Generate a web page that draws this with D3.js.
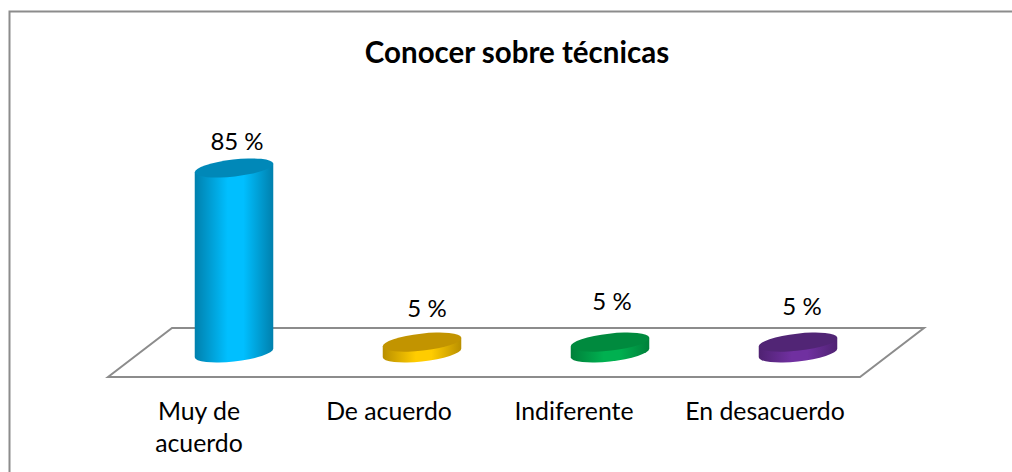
<!DOCTYPE html>
<html><head><meta charset="utf-8">
<script src="https://cdnjs.cloudflare.com/ajax/libs/d3/7.8.5/d3.min.js"></script>
<style>html,body{margin:0;padding:0;background:#fff}svg{display:block}text{font-family:Lato,"Open Sans",sans-serif;fill:#000}</style>
</head><body><svg id="c" width="1012" height="472"></svg>
<script>
const titleText = "Conocer sobre técnicas";
const categories = ["Muy de acuerdo", "De acuerdo", "Indiferente", "En desacuerdo"];
const values = [85, 5, 5, 5];
const valueLabels = ["85 %", "5 %", "5 %", "5 %"];
const midColors = ["#00bfff", "#ffcc00", "#00b050", "#7030a0"];
const edgeColors = ["#0080ad", "#b98f00", "#00803a", "#4f2272"];
const capColors = ["#0088b8", "#c29400", "#008a3e", "#512575"];

const svg = d3.select("#c");
const x = d3.scaleBand().domain(categories).range([140, 892]);
const xFront = d3.scaleBand().domain(categories).range([108, 860]);
const y = d3.scaleLinear().domain([0, 85]).range([353, 168]);

// chart frame: only top and left edges fall inside the picture
svg.append("path").attr("d", "M9.5,472V11.5H1012").attr("fill", "none")
  .attr("stroke", "#8c8c8c").attr("stroke-width", 2);

// floor
svg.append("path").attr("d", "M108,377L172,328H924L860,377Z")
  .attr("fill", "#fff").attr("stroke", "#8c8c8c").attr("stroke-width", 2);

svg.append("text").attr("x", 517).attr("y", 63).attr("text-anchor", "middle")
  .attr("font-size", 29.5).attr("font-weight", 700).text(titleText);

const rx = 39.5, ry = 8.5, tilt = -6.5, t = tilt * Math.PI / 180;
const xe = Math.sqrt(rx*rx*Math.cos(t)**2 + ry*ry*Math.sin(t)**2);
const ye = (rx*rx - ry*ry) * Math.sin(t) * Math.cos(t) / xe; // y offset at right extreme

const defs = svg.append("defs");
const grads = defs.selectAll("linearGradient").data(categories).join("linearGradient")
  .attr("id", (d, i) => "g" + i).attr("x1", 0).attr("x2", 1).attr("y1", 0).attr("y2", 0);
grads.selectAll("stop").data((d, i) => [
  [0, edgeColors[i]], [0.42, midColors[i]], [0.62, midColors[i]], [1, edgeColors[i]]
]).join("stop").attr("offset", d => d[0]).attr("stop-color", d => d[1]);

const bars = svg.selectAll("g.bar").data(categories).join("g").attr("class", "bar");
bars.append("path").attr("fill", (d, i) => `url(#g${i})`).attr("d", (d, i) => {
  const cx = x(d) + x.bandwidth() / 2, b = y(0), tp = y(values[i]);
  return `M${cx-xe},${tp-ye}L${cx-xe},${b-ye}A${rx},${ry} ${tilt} 0 0 ${cx+xe},${b+ye}L${cx+xe},${tp+ye}Z`;
});
bars.append("ellipse").attr("rx", rx).attr("ry", ry).attr("fill", (d, i) => capColors[i])
  .attr("transform", (d, i) => `translate(${x(d) + x.bandwidth()/2},${y(values[i])}) rotate(${tilt})`);

// value labels
const labelShift = [[3, -18], [5, -25], [2, -32], [4, -27]];
svg.selectAll("text.val").data(valueLabels).join("text").attr("class", "val")
  .attr("text-anchor", "middle").attr("font-size", 24)
  .attr("x", (d, i) => x(categories[i]) + x.bandwidth()/2 + labelShift[i][0])
  .attr("y", (d, i) => y(values[i]) + labelShift[i][1])
  .text(d => d);

// category labels, wrapped like the original
const wrapped = {"Muy de acuerdo": ["Muy de", "acuerdo"]};
const catShift = [-3, -1, -4, -1];
const cat = svg.selectAll("text.cat").data(categories).join("text").attr("class", "cat")
  .attr("text-anchor", "middle").attr("font-size", 24.8);
cat.selectAll("tspan").data((d, i) => (wrapped[d] || [d]).map(s => [d, s, catShift[i]])).join("tspan")
  .attr("x", d => xFront(d[0]) + xFront.bandwidth()/2 + d[2])
  .attr("y", (d, i) => 420 + i * 32)
  .text(d => d[1]);
</script></body></html>
